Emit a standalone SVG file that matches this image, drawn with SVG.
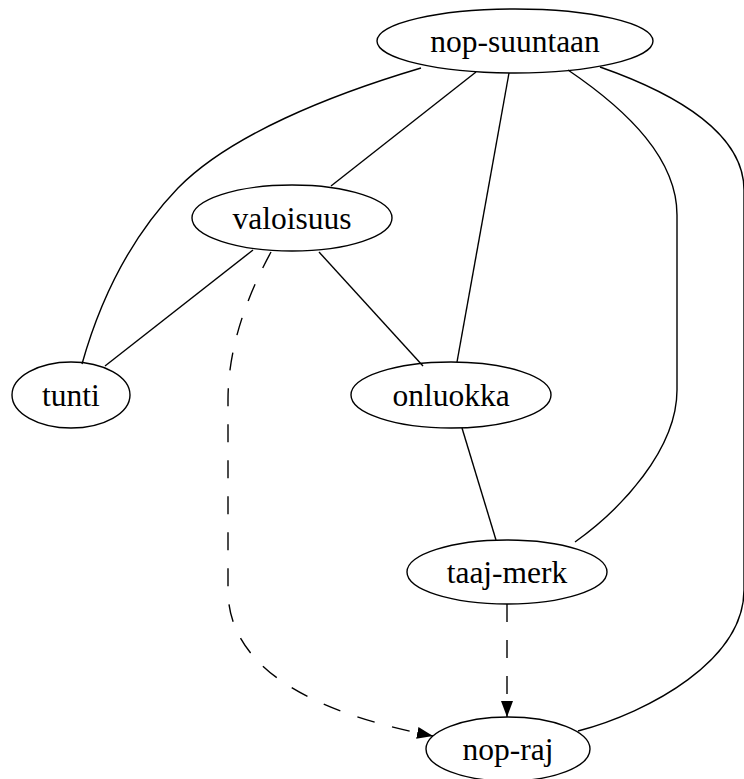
<svg xmlns="http://www.w3.org/2000/svg" width="744" height="779" viewBox="0 0 744 779">
<defs>
<style>
.node ellipse{fill:none;stroke:#000;stroke-width:1.4}
.node text{font-family:"Liberation Serif","Times New Roman",serif;font-size:31.5px;fill:#000;text-anchor:middle;dominant-baseline:central}
.edge{fill:none;stroke:#000;stroke-width:1.4}
.dash{stroke-dasharray:18,18}
</style>
<marker id="arrow" viewBox="0 0 16 12" refX="16" refY="6" markerWidth="16" markerHeight="12" markerUnits="userSpaceOnUse" orient="auto">
<path d="M0,0 L16,6 L0,12 Z" fill="#000"/>
</marker>
</defs>
<rect width="744" height="779" fill="#fff"/>
<g id="edges">
<path class="edge" d="M421,68 C330,95 230,135 178,188 C130,238 100,300 82,364"/>
<path class="edge" d="M476,72 L331,186"/>
<path class="edge" d="M509,73 L457,362"/>
<path class="edge" d="M568,70 C630,112 677,160 677,215 L677,390 C677,450 620,510 575,542"/>
<path class="edge" d="M600,67 C680,95 744,135 744,190 L744,590 C744,660 650,712 578,731"/>
<path class="edge" d="M253,250 L105,366"/>
<path class="edge" d="M319,252 L423,366"/>
<path class="edge" d="M462,428 L496,540"/>
<path class="edge dash" marker-end="url(#arrow)" d="M271,252 C245,300 228,350 228,400 L228,590 C228,680 340,718 433,736"/>
<path class="edge dash" marker-end="url(#arrow)" d="M507,604 L507,717"/>
</g>
<g id="nop-suuntaan" class="node"><ellipse cx="515" cy="41" rx="138" ry="32"/><text x="515" y="41">nop-suuntaan</text></g>
<g id="valoisuus" class="node"><ellipse cx="292" cy="218" rx="100" ry="33"/><text x="292" y="218">valoisuus</text></g>
<g id="tunti" class="node"><ellipse cx="71" cy="395" rx="59" ry="33"/><text x="71" y="395">tunti</text></g>
<g id="onluokka" class="node"><ellipse cx="451" cy="395" rx="100" ry="33"/><text x="451" y="395">onluokka</text></g>
<g id="taaj-merk" class="node"><ellipse cx="507" cy="572" rx="100" ry="32"/><text x="507" y="572">taaj-merk</text></g>
<g id="nop-raj" class="node"><ellipse cx="508" cy="749" rx="82" ry="32"/><text x="508" y="749">nop-raj</text></g>
</svg>
